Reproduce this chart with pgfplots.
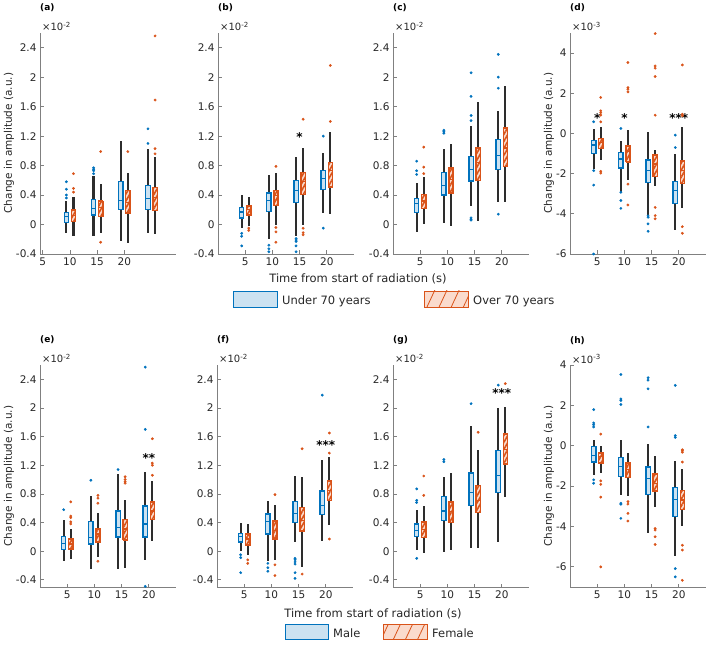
\documentclass[border=0pt]{standalone}
\usepackage{fontspec}
\setmainfont{DejaVu Sans}
\usepackage{pgfplots}
\pgfplotsset{compat=1.18}
\usepgfplotslibrary{statistics}
\usetikzlibrary{patterns.meta}

\definecolor{bE}{RGB}{0,114,189}
\definecolor{bF}{RGB}{204,226,241}
\definecolor{oE}{RGB}{217,83,25}
\definecolor{oF}{RGB}{250,219,205}
\definecolor{txt}{RGB}{38,38,38}
\definecolor{axl}{RGB}{128,128,128}
\definecolor{wsk}{RGB}{45,45,45}

\pgfplotsset{
  panel/.style={
    scale only axis, width=136pt,
    axis x line*=bottom, axis y line*=left,
    axis line style={axl, line width=0.9pt},
    major tick style={axl, line width=0.7pt},
    tick align=inside, major tick length=3.5pt,
    tick label style={font=\fontsize{10.5}{12}\selectfont, text=txt},
    /pgf/number format/assume math mode=true,
    xtick={5,10,15,20}, xmin=0, xmax=25,
    clip=false,
    boxplot/draw direction=y,
    boxplot/box extend=0.8,
    boxplot/whisker extend=0,
  },
  topE/.style={height=221pt, ymin=-0.4, ymax=2.6, ytick={-0.4,0,0.4,0.8,1.2,1.6,2,2.4}},
  botE/.style={height=222pt, ymin=-0.5, ymax=2.6, ytick={-0.4,0,0.4,0.8,1.2,1.6,2,2.4}},
  grpB/.style={color=bE, mark=*, mark size=1.2pt, mark options={solid, fill=bE, draw=bE},
    boxplot/every box/.style={draw=bE, fill=bF, line width=1.3pt},
    boxplot/every median/.style={draw=bE, line width=1.2pt},
    boxplot/every whisker/.style={draw=wsk, line width=2.2pt}},
  grpO/.style={color=oE, mark=*, mark size=1.2pt, mark options={solid, fill=oE, draw=oE},
    boxplot/every box/.style={draw=oE, line width=1.3pt, preaction={fill=oF},
      pattern={Lines[angle=60,distance=3.5pt,line width=1.6pt]}, pattern color=oE},
    boxplot/every median/.style={draw=oE, line width=1.2pt},
    boxplot/every whisker/.style={draw=wsk, line width=2.2pt}},
}

% position, lower whisker, lower quartile, median, upper quartile, upper whisker, outliers
\newcommand\bB[7]{\addplot[grpB, boxplot prepared={draw position=#1, lower whisker=#2,
  lower quartile=#3, median=#4, upper quartile=#5, upper whisker=#6}] coordinates {#7};}
\newcommand\bO[7]{\addplot[grpO, boxplot prepared={draw position=#1, lower whisker=#2,
  lower quartile=#3, median=#4, upper quartile=#5, upper whisker=#6}] coordinates {#7};}

% panel letter and exponent above the y axis
\newcommand\tag[2]{%
  \node[anchor=base west, inner sep=0pt, yshift=22pt, font=\bfseries\fontsize{9}{11}\selectfont, text=black]
    at (rel axis cs:0,1) {#1};
  \node[anchor=base west, inner sep=0pt, yshift=2pt, xshift=2pt, font=\fontsize{10}{12}\selectfont, text=txt]
    at (rel axis cs:0,1) {×10\textsuperscript{#2}};}
\newcommand\sig[3]{\node[anchor=base, inner sep=0pt, yshift=-7pt, font=\bfseries\fontsize{12}{12}\selectfont]
  at (axis cs:#1,#2) {#3};}

\begin{document}
\begin{tikzpicture}
\path[use as bounding box] (0pt,0pt) rectangle (708pt,650pt);

%% (a)
\begin{axis}[panel, topE, at={(40pt,396pt)}, xmin=4.5, xmax=29.5]
\tag{(a)}{-2}
\bB{9.35}{-0.11}{0.03}{0.11}{0.16}{0.32}{(0,0.58)(0,0.48)(0,0.40)(0,0.36)}
\bO{10.65}{-0.15}{0.04}{0.12}{0.20}{0.37}{(0,0.69)(0,0.49)(0,0.44)}
\bB{14.35}{-0.16}{0.13}{0.22}{0.34}{0.66}{(0,0.77)(0,0.75)(0,0.73)(0,0.69)}
\bO{15.65}{-0.12}{0.11}{0.23}{0.32}{0.55}{(0,0.99)(0,-0.24)}
\bB{19.35}{-0.22}{0.20}{0.33}{0.58}{1.14}{}
\bO{20.65}{-0.25}{0.16}{0.30}{0.46}{0.70}{(0,0.99)}
\bB{24.35}{-0.12}{0.20}{0.35}{0.53}{1.03}{(0,1.30)(0,1.10)}
\bO{25.65}{-0.13}{0.19}{0.37}{0.50}{0.91}{(0,2.56)(0,1.69)(0,1.03)(0,0.96)}
\end{axis}

%% (b)
\begin{axis}[panel, topE, at={(218pt,396pt)}]
\tag{(b)}{-2}
\bB{4.35}{-0.05}{0.09}{0.17}{0.23}{0.40}{(0,-0.12)(0,-0.16)(0,-0.29)}
\bO{5.65}{-0.02}{0.13}{0.20}{0.25}{0.38}{(0,-0.05)(0,-0.08)}
\bB{9.35}{-0.19}{0.18}{0.33}{0.43}{0.67}{(0,-0.28)(0,-0.33)(0,-0.37)}
\bO{10.65}{0.00}{0.26}{0.39}{0.46}{0.70}{(0,0.79)(0,-0.04)(0,-0.10)(0,-0.24)}
\bB{14.35}{-0.15}{0.30}{0.46}{0.60}{0.92}{(0,-0.19)(0,-0.21)(0,-0.23)(0,-0.29)(0,-0.37)}
\bO{15.65}{0.00}{0.41}{0.58}{0.71}{1.04}{(0,1.43)(0,-0.05)(0,-0.11)(0,-0.14)}
\bB{19.35}{0.15}{0.48}{0.62}{0.73}{0.97}{(0,1.20)(0,-0.05)}
\bO{20.65}{0.14}{0.51}{0.73}{0.84}{1.25}{(0,2.16)(0,1.40)}
\sig{15}{1.22}{*}
\end{axis}

%% (c)
\begin{axis}[panel, topE, at={(393pt,396pt)}]
\tag{(c)}{-2}
\bB{4.35}{-0.10}{0.16}{0.29}{0.35}{0.57}{(0,0.86)(0,0.73)(0,0.68)}
\bO{5.65}{0.01}{0.22}{0.32}{0.41}{0.64}{(0,1.05)(0,0.78)(0,0.69)}
\bB{9.35}{0.02}{0.40}{0.53}{0.71}{1.03}{(0,1.28)(0,1.26)(0,1.24)}
\bO{10.65}{-0.02}{0.43}{0.61}{0.77}{1.09}{}
\bB{14.35}{0.25}{0.59}{0.75}{0.92}{1.34}{(0,2.06)(0,1.74)(0,1.48)(0,1.41)(0,0.09)(0,0.07)(0,0.06)}
\bO{15.65}{0.05}{0.60}{0.84}{1.04}{1.66}{}
\bB{19.35}{0.30}{0.75}{0.94}{1.15}{1.54}{(0,2.31)(0,2.00)(0,1.85)(0,0.14)}
\bO{20.65}{0.30}{0.79}{1.04}{1.31}{1.88}{}
\end{axis}

%% (d)
\begin{axis}[panel, at={(570pt,396pt)}, height=221pt, ymin=-6, ymax=5, ytick={-6,-4,-2,0,2,4}]
\tag{(d)}{-3}
\bB{4.35}{-1.77}{-0.99}{-0.58}{-0.36}{0.22}{(0,0.58)(0,-1.85)(0,-2.57)(0,-6.0)}
\bO{5.65}{-1.33}{-0.75}{-0.45}{-0.25}{0.30}{(0,1.79)(0,1.13)(0,1.04)(0,0.91)(0,0.58)(0,-1.89)(0,-1.97)}
\bB{9.35}{-2.90}{-1.72}{-1.27}{-0.94}{-0.36}{(0,0.25)(0,-2.93)(0,-3.34)(0,-3.73)}
\bO{10.65}{-2.32}{-1.41}{-0.91}{-0.63}{0.17}{(0,3.53)(0,2.28)(0,2.20)(0,2.07)(0,-2.52)(0,-3.56)}
\bB{14.35}{-4.05}{-2.43}{-1.85}{-1.32}{0.08}{(0,-4.10)(0,-4.17)(0,-4.50)(0,-4.87)}
\bO{15.65}{-2.60}{-2.14}{-1.52}{-1.08}{-0.81}{(0,4.97)(0,3.36)(0,3.25)(0,2.83)(0,0.91)(0,-3.68)(0,-4.09)(0,-4.25)}
\bB{19.35}{-4.80}{-3.48}{-2.85}{-2.40}{-1.03}{(0,-0.08)(0,-0.70)}
\bO{20.65}{-3.71}{-2.48}{-1.85}{-1.36}{0.33}{(0,3.41)(0,0.96)(0,0.88)(0,-4.64)(0,-4.97)}
\sig{5}{0.88}{*}
\sig{10}{0.88}{*}
\sig{20}{0.88}{***}
\end{axis}

%% (e)
\begin{axis}[panel, botE, at={(40pt,63pt)}]
\tag{(e)}{-2}
\bB{4.35}{-0.14}{0.02}{0.11}{0.21}{0.44}{(0,0.58)}
\bO{5.65}{-0.11}{0.03}{0.10}{0.17}{0.31}{(0,0.69)(0,0.49)(0,0.47)(0,0.41)(0,0.38)}
\bB{9.35}{-0.25}{0.10}{0.19}{0.41}{0.77}{(0,0.99)}
\bO{10.65}{-0.08}{0.13}{0.24}{0.31}{0.53}{(0,0.78)(0,0.74)(0,0.67)(0,-0.14)}
\bB{14.35}{-0.25}{0.20}{0.33}{0.56}{1.08}{(0,1.14)}
\bO{15.65}{-0.23}{0.16}{0.31}{0.44}{0.71}{(0,1.04)(0,1.00)(0,0.97)(0,0.95)}
\bB{19.35}{-0.12}{0.20}{0.38}{0.63}{1.11}{(0,2.57)(0,1.70)(0,-0.49)}
\bO{20.65}{0.14}{0.44}{0.56}{0.69}{0.98}{(0,1.57)(0,1.23)(0,1.20)(0,1.06)}
\sig{20}{1.33}{**}
\end{axis}

%% (f)
\begin{axis}[panel, botE, at={(217pt,63pt)}]
\tag{(f)}{-2}
\bB{4.35}{0.00}{0.13}{0.20}{0.25}{0.40}{(0,-0.05)(0,-0.09)(0,-0.30)}
\bO{5.65}{-0.06}{0.09}{0.17}{0.24}{0.38}{(0,-0.12)(0,-0.17)}
\bB{9.35}{-0.13}{0.24}{0.41}{0.52}{0.70}{(0,-0.17)(0,-0.23)(0,-0.28)}
\bO{10.65}{-0.12}{0.17}{0.29}{0.42}{0.64}{(0,0.79)(0,-0.19)(0,-0.34)}
\bB{14.35}{0.13}{0.40}{0.53}{0.69}{1.05}{(0,-0.10)(0,-0.12)(0,-0.15)(0,-0.18)(0,-0.30)(0,-0.38)}
\bO{15.65}{-0.22}{0.28}{0.43}{0.61}{1.03}{(0,1.43)(0,-0.32)}
\bB{19.35}{0.14}{0.51}{0.64}{0.84}{1.27}{(0,2.18)}
\bO{20.65}{0.37}{0.71}{0.85}{0.98}{1.31}{(0,1.65)(0,1.37)(0,0.17)}
\sig{20}{1.52}{***}
\end{axis}

%% (g)
\begin{axis}[panel, botE, at={(393pt,63pt)}]
\tag{(g)}{-2}
\bB{4.35}{0.01}{0.21}{0.29}{0.38}{0.57}{(0,0.87)(0,0.71)(0,0.68)(0,-0.10)}
\bO{5.65}{-0.02}{0.19}{0.30}{0.41}{0.63}{(0,1.05)(0,0.78)}
\bB{9.35}{-0.01}{0.43}{0.56}{0.76}{1.03}{(0,1.28)(0,1.25)}
\bO{10.65}{0.02}{0.40}{0.55}{0.69}{1.09}{}
\bB{14.35}{0.04}{0.64}{0.82}{1.09}{1.75}{(0,2.06)}
\bO{15.65}{0.05}{0.54}{0.71}{0.92}{1.42}{(0,1.66)}
\bB{19.35}{0.13}{0.82}{1.06}{1.41}{2.00}{(0,2.32)}
\bO{20.65}{0.76}{1.22}{1.42}{1.64}{2.01}{(0,2.34)}
\sig{20}{2.24}{***}
\end{axis}

%% (h)
\begin{axis}[panel, at={(570pt,63pt)}, height=222pt, ymin=-7, ymax=4, ytick={-6,-4,-2,0,2,4}]
\tag{(h)}{-3}
\bB{4.35}{-1.44}{-0.81}{-0.50}{-0.03}{0.30}{(0,1.79)(0,1.13)(0,1.04)(0,0.93)(0,-1.69)(0,-1.86)}
\bO{5.65}{-1.36}{-0.86}{-0.53}{-0.36}{-0.03}{(0,0.58)(0,-1.74)(0,-1.91)(0,-2.55)(0,-6.00)}
\bB{9.35}{-2.44}{-1.53}{-1.03}{-0.58}{0.27}{(0,3.53)(0,2.32)(0,2.24)(0,2.04)(0,-2.85)(0,-2.90)(0,-3.60)}
\bO{10.65}{-2.47}{-1.56}{-1.19}{-0.86}{-0.36}{(0,-2.77)(0,-2.89)(0,-3.35)(0,-3.73)}
\bB{14.35}{-4.31}{-2.40}{-1.61}{-1.06}{0.08}{(0,3.37)(0,3.25)(0,2.82)(0,0.93)}
\bO{15.65}{-3.05}{-2.24}{-1.86}{-1.39}{-0.53}{(0,-4.10)(0,-4.18)(0,-4.51)(0,-4.89)}
\bB{19.35}{-5.46}{-3.52}{-2.65}{-2.07}{-0.78}{(0,2.99)(0,0.50)(0,0.41)(0,-6.09)(0,-6.50)}
\bO{20.65}{-3.98}{-3.15}{-2.69}{-2.22}{-1.16}{(0,-0.20)(0,-0.25)(0,-0.32)(0,-0.81)(0,-4.93)(0,-5.17)(0,-6.67)}
\end{axis}

%% shared axis labels
\begin{scope}[every node/.style={font=\fontsize{10.5}{12}\selectfont, text=txt}]
\node[rotate=90] at (9pt,507pt) {Change in amplitude (a.u.)};
\node[rotate=90] at (549pt,507pt) {Change in amplitude (a.u.)};
\node[rotate=90] at (9pt,174pt) {Change in amplitude (a.u.)};
\node[rotate=90] at (549pt,174pt) {Change in amplitude (a.u.)};
\end{scope}
\begin{scope}[every node/.style={font=\fontsize{11.5}{13}\selectfont, text=txt}]
\node at (358pt,371pt) {Time from start of radiation (s)};
\node at (373pt,36pt) {Time from start of radiation (s)};
\end{scope}

%% legends
\begin{scope}[every node/.style={font=\fontsize{11.5}{13}\selectfont, text=txt, anchor=west, inner sep=0pt}]
\draw[bE, fill=bF, line width=0.9pt] (233pt,343pt) rectangle (277pt,359pt);
\node at (282pt,349pt) {Under 70 years};
\draw[oE, line width=0.9pt, preaction={fill=oF}, pattern={Lines[angle=65,distance=11pt,line width=0.8pt]}, pattern color=oE]
  (424pt,343pt) rectangle (468pt,359pt);
\node at (473pt,349pt) {Over 70 years};
\draw[bE, fill=bF, line width=0.9pt] (285pt,11pt) rectangle (328pt,26pt);
\node at (333pt,17pt) {Male};
\draw[oE, line width=0.9pt, preaction={fill=oF}, pattern={Lines[angle=65,distance=11pt,line width=0.8pt]}, pattern color=oE]
  (383pt,11pt) rectangle (427pt,26pt);
\node at (432pt,17pt) {Female};
\end{scope}
\end{tikzpicture}
\end{document}
